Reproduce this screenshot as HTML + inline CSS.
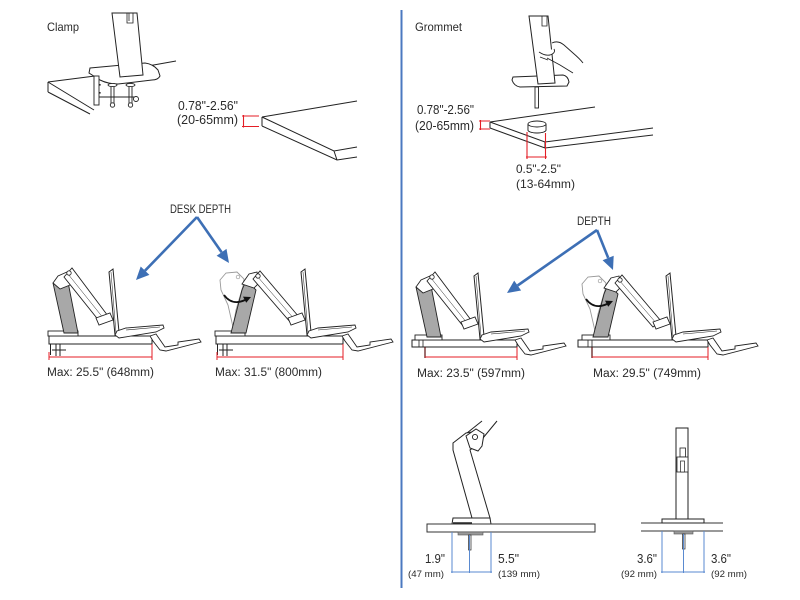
<!DOCTYPE html>
<html><head><meta charset="utf-8"><style>
html,body{margin:0;padding:0;background:#fff;}
svg{display:block}
text{font-family:"Liberation Sans",Arial,sans-serif;fill:#2a2a2a;}
</style></head><body>
<svg width="800" height="600" viewBox="0 0 800 600" xmlns="http://www.w3.org/2000/svg">
<defs>
 <g id="rp">
   <polygon points="109,272 113,269 119,332 115,335" fill="#fff" stroke="#222" stroke-width="1"/>
   <line x1="111" y1="272" x2="116" y2="333" stroke="#222" stroke-width="0.5"/>
   <polygon points="115,335 117,331 126,328 163,325 164,328 156,332 119,338" fill="#fff" stroke="#222" stroke-width="0.9"/>
   <line x1="126" y1="330" x2="160" y2="327" stroke="#222" stroke-width="0.6"/>
   <polygon points="96,318 110,313 113,320 99,325" fill="#fff" stroke="#222" stroke-width="0.9"/>
   <polygon points="150,336 156,334 165,347 178,345 178,342 199,339 201,342 166,351 160,350 153,341" fill="#fff" stroke="#222" stroke-width="0.9"/>
 </g>
 <g id="colA">
   <polygon points="53,283 66,274 69,287 78,333 64,333" fill="#a8a8a8" stroke="#222" stroke-width="0.9"/>
   <polygon points="53,283 58,276 67,272 70,285 60,289" fill="#fff" stroke="#222" stroke-width="0.9"/>
   <polygon points="64,277 72,268 108,316 100,322" fill="#fff" stroke="#222" stroke-width="0.9"/>
   <line x1="68" y1="274" x2="104" y2="319" stroke="#222" stroke-width="0.5"/>
   <circle cx="69" cy="273" r="2.2" fill="#fff" stroke="#222" stroke-width="0.8"/>
 </g>
 <g id="colB">
   <polygon points="220,280 226,273 237,272 244,279 243,286 236,310 233,327 228,305 221,290" fill="#fff" stroke="#999" stroke-width="0.9"/>
   <circle cx="238" cy="277" r="1.8" fill="#fff" stroke="#999" stroke-width="0.7"/>
   <polygon points="231,333 242,290 245,283 254,288 256,290 246,333" fill="#a8a8a8" stroke="#222" stroke-width="0.9"/>
   <polygon points="242,284 249,274 257,272 259,283 254,288" fill="#fff" stroke="#222" stroke-width="0.9"/>
   <polygon points="253,279 260,271 299,317 291,323" fill="#fff" stroke="#222" stroke-width="0.9"/>
   <line x1="257" y1="276" x2="295" y2="320" stroke="#222" stroke-width="0.5"/>
   <circle cx="258" cy="276" r="2.2" fill="#fff" stroke="#222" stroke-width="0.8"/>
   <path d="M224,295 Q232,306 245,300" fill="none" stroke="#111" stroke-width="1.8"/>
   <polygon points="251,297 246.2,302.8 243,296.6" fill="#111"/>
 </g>
 <g id="clampA">
   <rect x="48" y="331" width="30" height="5" fill="#fff" stroke="#222" stroke-width="0.9"/>
   <line x1="50.5" y1="344" x2="50.5" y2="355" stroke="#222"/>
   <line x1="56" y1="344" x2="56" y2="356" stroke="#222"/>
   <line x1="60" y1="344" x2="60" y2="356" stroke="#222"/>
   <line x1="52" y1="350" x2="66" y2="350" stroke="#222"/>
 </g>
</defs>

<!-- divider -->
<rect x="400.5" y="10" width="2" height="578" fill="#4b79c0"/>

<!-- ================= TOP LEFT: Clamp ================= -->
<text x="47" y="31" font-size="12" textLength="32" lengthAdjust="spacingAndGlyphs">Clamp</text>
<path d="M48,82 L95,76 M148,66 L176,61" stroke="#222" fill="none" stroke-width="1"/>
<path d="M48,82 L48,92 M48,82 L94,110 M48,92 L90,114" stroke="#222" fill="none" stroke-width="1"/>
<path d="M90,68 L145,63 Q153,64 158,70 L160,76 Q158,80 152,80 L118,84 Q108,84 100,80 L89,73 Z" fill="#fff" stroke="#222" stroke-width="1"/>
<polygon points="112,13 137,13 143,75 120,77" fill="#fff" stroke="#222" stroke-width="1"/>
<path d="M127,13 L127,23 L133,23 L133,13 M129,13 L129,21" fill="none" stroke="#222" stroke-width="0.8"/>
<rect x="94" y="76" width="5" height="29" fill="#fff" stroke="#222" stroke-width="0.9"/>
<rect x="99" y="84" width="1.6" height="1.6" fill="#222"/>
<rect x="99" y="92" width="1.6" height="1.6" fill="#222"/>
<line x1="99" y1="97" x2="136" y2="97" stroke="#222" stroke-width="0.9"/>
<path d="M111,85 L111,105 M114,85 L114,105 M129,85 L129,105 M132,85 L132,105" stroke="#222" stroke-width="0.9"/>
<ellipse cx="112.5" cy="85" rx="4.5" ry="1.6" fill="#fff" stroke="#222" stroke-width="0.9"/>
<ellipse cx="130.5" cy="85" rx="4.5" ry="1.6" fill="#fff" stroke="#222" stroke-width="0.9"/>
<circle cx="112.5" cy="105" r="2.2" fill="#fff" stroke="#222" stroke-width="0.9"/>
<circle cx="130.5" cy="105" r="2.2" fill="#fff" stroke="#222" stroke-width="0.9"/>
<circle cx="136" cy="99" r="2.5" fill="#fff" stroke="#222" stroke-width="0.9"/>

<text x="178" y="110" font-size="12.5" textLength="60" lengthAdjust="spacingAndGlyphs">0.78"-2.56"</text>
<text x="177" y="124" font-size="12.5" textLength="61" lengthAdjust="spacingAndGlyphs">(20-65mm)</text>
<path d="M242,116 L259,116 M242,126.5 L259,126.5 M243.5,115 L243.5,127.5" stroke="#e41e26" stroke-width="1.1" fill="none"/>
<path d="M262,117 L357,101 M262,117 L262,126 M262,117 L334,151 L357,147 M262,126 L337,160 L357,157 M334,151 L337,160" stroke="#222" fill="none" stroke-width="1"/>

<!-- ================= TOP RIGHT: Grommet ================= -->
<text x="415" y="31" font-size="12" textLength="47" lengthAdjust="spacingAndGlyphs">Grommet</text>
<path d="M513,77 L563,75 Q568,76 569,82 L567,86 L520,87 Q514,86 512,80 Z" fill="#fff" stroke="#222" stroke-width="1"/>
<polygon points="529,16 548,16 555,83 538,84" fill="#fff" stroke="#222" stroke-width="1"/>
<path d="M542,16 L542,26 L547,26 L547,16" fill="none" stroke="#222" stroke-width="0.8"/>
<path d="M552,43 Q558,40 564,45 L573,53 Q580,59 583,63" fill="none" stroke="#222" stroke-width="0.9"/>
<path d="M539,52 Q545,56 550,55 Q556,53 554,49" fill="#fff" stroke="#222" stroke-width="0.9"/>
<path d="M547,58 L560,65 L573,73" fill="none" stroke="#222" stroke-width="0.9"/>
<path d="M540,57 L548,60" fill="none" stroke="#222" stroke-width="0.8"/>
<rect x="535" y="87" width="3.5" height="21" fill="#fff" stroke="#222" stroke-width="0.9"/>
<path d="M528,124 L528,130 A9,3 0 0 0 546,130 L546,124" fill="#fff" stroke="#222" stroke-width="0.9"/>
<path d="M490,122 L595,107 M490,122 L490,128 M490,122 L545,142 L653,128 M490,128 L545,148 L653,135 M545,142 L545,148" stroke="#222" fill="none" stroke-width="1"/>
<path d="M528,124 L528,130 A9,3 0 0 0 546,130 L546,124" fill="#fff" stroke="#222" stroke-width="0.9"/>
<ellipse cx="537" cy="124" rx="9" ry="3" fill="#fff" stroke="#222" stroke-width="0.9"/>
<text x="417" y="114" font-size="12.5" textLength="57" lengthAdjust="spacingAndGlyphs">0.78"-2.56"</text>
<text x="415" y="130" font-size="12.5" textLength="59" lengthAdjust="spacingAndGlyphs">(20-65mm)</text>
<path d="M479,121 L490,121 M479,129 L490,129 M480.5,120 L480.5,130" stroke="#e41e26" stroke-width="1.1" fill="none"/>
<path d="M527,132 L527,159 M545.5,133 L545.5,159 M526,157 L547,157" stroke="#e41e26" stroke-width="1.1" fill="none"/>
<text x="516" y="173" font-size="12" textLength="45" lengthAdjust="spacingAndGlyphs">0.5"-2.5"</text>
<text x="516" y="188" font-size="12" textLength="59" lengthAdjust="spacingAndGlyphs">(13-64mm)</text>

<!-- ================= ARROWS ================= -->
<g stroke="#3d6fb5" stroke-width="2.6" fill="none">
  <line x1="197" y1="217" x2="145" y2="270.7"/>
  <line x1="197" y1="217" x2="221.6" y2="252.3"/>
  <line x1="597" y1="230" x2="517.6" y2="285.5"/>
  <line x1="597" y1="230" x2="608.2" y2="257.9"/>
</g>
<g fill="#3d6fb5">
  <polygon points="136,280 149.4,274.9 140.7,266.5"/>
  <polygon points="229,263 216.6,255.8 226.5,248.9"/>
  <polygon points="507,293 521.1,290.5 514.2,280.6"/>
  <polygon points="613,270 602.6,260.2 613.7,255.7"/>
</g>
<text x="170" y="213" font-size="12" textLength="61" lengthAdjust="spacingAndGlyphs">DESK DEPTH</text>
<text x="577" y="225" font-size="11.5" textLength="34" lengthAdjust="spacingAndGlyphs">DEPTH</text>

<!-- ================= FIG A ================= -->
<rect x="49" y="336" width="103" height="8" fill="#fff" stroke="#222" stroke-width="1"/>
<use href="#clampA"/>
<use href="#colA"/>
<use href="#rp"/>
<path d="M49,357 L152,357 M49,352 L49,360 M152,344 L152,360" stroke="#e41e26" stroke-width="1" fill="none"/>
<text x="47" y="376" font-size="11.5" textLength="107" lengthAdjust="spacingAndGlyphs">Max: 25.5" (648mm)</text>

<!-- ================= FIG B ================= -->
<rect x="216" y="336" width="127" height="8" fill="#fff" stroke="#222" stroke-width="1"/>
<use href="#clampA" x="167" y="0"/>
<use href="#colB"/>
<use href="#rp" x="192" y="0"/>
<path d="M217,357 L343,357 M217,352 L217,360 M343,344 L343,360" stroke="#e41e26" stroke-width="1" fill="none"/>
<text x="215" y="376" font-size="11.5" textLength="107" lengthAdjust="spacingAndGlyphs">Max: 31.5" (800mm)</text>

<!-- ================= FIG C ================= -->
<rect x="412" y="340" width="105" height="7" fill="#fff" stroke="#222" stroke-width="1"/>
<rect x="415" y="335" width="27" height="5" fill="#fff" stroke="#222" stroke-width="0.9"/>
<use href="#colA" x="363" y="4"/>
<use href="#rp" x="365" y="4"/>
<path d="M419,340 L419,347 M423,340 L423,347" stroke="#222" stroke-width="0.8"/>
<line x1="425" y1="347" x2="425" y2="358" stroke="#5a0d0d" stroke-width="1.2"/>
<path d="M425,357 L517,357 M517,347 L517,360" stroke="#e41e26" stroke-width="1" fill="none"/>
<text x="417" y="377" font-size="11.5" textLength="108" lengthAdjust="spacingAndGlyphs">Max: 23.5" (597mm)</text>

<!-- ================= FIG D ================= -->
<rect x="578" y="340" width="130" height="7" fill="#fff" stroke="#222" stroke-width="1"/>
<rect x="582" y="335" width="28" height="5" fill="#fff" stroke="#222" stroke-width="0.9"/>
<use href="#colB" x="362" y="4"/>
<use href="#rp" x="557" y="4"/>
<path d="M588,340 L588,347 M592,340 L592,347" stroke="#222" stroke-width="0.8"/>
<line x1="592" y1="347" x2="592" y2="358" stroke="#5a0d0d" stroke-width="1.2"/>
<path d="M592,357 L708,357 M708,347 L708,360" stroke="#e41e26" stroke-width="1" fill="none"/>
<text x="593" y="377" font-size="11.5" textLength="108" lengthAdjust="spacingAndGlyphs">Max: 29.5" (749mm)</text>

<!-- ================= FIG E (bottom left of right half) ================= -->
<path d="M467,433 L482,421 M483,438 L497,421" stroke="#222" fill="none" stroke-width="1"/>
<polygon points="453,443 466,433 472,432 474,447 470,450 490,518 472,518 453,450" fill="#fff" stroke="#222" stroke-width="1"/>
<polygon points="466,436 476,429 484,434 482,446 478,451 470,448" fill="#fff" stroke="#222" stroke-width="1"/>
<circle cx="475" cy="437" r="2.6" fill="#fff" stroke="#222" stroke-width="0.9"/>
<polygon points="452,524 453,518 490,518 491,524" fill="#fff" stroke="#222" stroke-width="1"/>
<line x1="453" y1="523" x2="472" y2="523" stroke="#222" stroke-width="1.6"/>
<rect x="427" y="524" width="168" height="8" fill="#fff" stroke="#333" stroke-width="1"/>
<rect x="458" y="532" width="25" height="3" fill="#999" stroke="#555" stroke-width="0.6"/>
<rect x="468.5" y="535" width="2.5" height="15" fill="#fff" stroke="#222" stroke-width="0.7"/>
<path d="M452,532 L452,573 M469.5,535 L469.5,573 M491,532 L491,573 M451,572 L492,572" stroke="#5a8ad0" stroke-width="1" fill="none"/>
<text x="425" y="563" font-size="13" textLength="20" lengthAdjust="spacingAndGlyphs">1.9"</text>
<text x="408" y="577" font-size="9.5" textLength="36" lengthAdjust="spacingAndGlyphs">(47 mm)</text>
<text x="498" y="563" font-size="13" textLength="21" lengthAdjust="spacingAndGlyphs">5.5"</text>
<text x="498" y="577" font-size="9.5" textLength="42" lengthAdjust="spacingAndGlyphs">(139 mm)</text>

<!-- ================= FIG F ================= -->
<path d="M641,523 L723,523 M641,531 L723,531" stroke="#333" stroke-width="1.1" fill="none"/>
<rect x="676" y="428" width="12" height="91" fill="#fff" stroke="#222" stroke-width="1"/>
<rect x="680" y="448" width="5.5" height="9" fill="#fff" stroke="#222" stroke-width="0.8"/>
<rect x="677" y="457" width="11" height="15" fill="#fff" stroke="#222" stroke-width="0.8"/>
<rect x="680.5" y="461" width="4" height="11" fill="#fff" stroke="#222" stroke-width="0.7"/>
<rect x="662" y="519" width="42" height="4" fill="#fff" stroke="#222" stroke-width="1"/>
<rect x="674" y="531" width="19" height="3" fill="#999" stroke="#555" stroke-width="0.6"/>
<rect x="682.5" y="534" width="2.5" height="15" fill="#fff" stroke="#222" stroke-width="0.7"/>
<path d="M662,531 L662,573 M683.5,534 L683.5,573 M704,531 L704,573 M661,572 L705,572" stroke="#5a8ad0" stroke-width="1" fill="none"/>
<text x="637" y="563" font-size="13" textLength="20" lengthAdjust="spacingAndGlyphs">3.6"</text>
<text x="621" y="577" font-size="9.5" textLength="36" lengthAdjust="spacingAndGlyphs">(92 mm)</text>
<text x="711" y="563" font-size="13" textLength="20" lengthAdjust="spacingAndGlyphs">3.6"</text>
<text x="711" y="577" font-size="9.5" textLength="36" lengthAdjust="spacingAndGlyphs">(92 mm)</text>
</svg>
</body></html>
